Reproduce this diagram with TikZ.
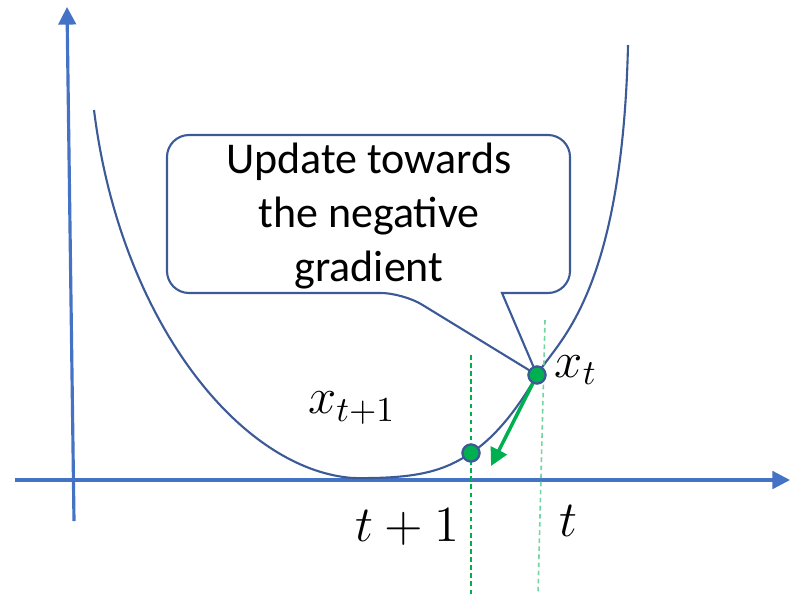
\documentclass[tikz,border=0pt]{standalone}
\usepackage{fontspec}
\setmainfont{Carlito}
\usetikzlibrary{arrows.meta}
\definecolor{axisblue}{HTML}{4472C4}
\definecolor{curveblue}{HTML}{3C5A96}
\definecolor{stepgreen}{HTML}{00B050}
\begin{document}
\begin{tikzpicture}[x=0.01cm, y=-0.01cm, >={Triangle[length=5pt,width=5pt]},
  dot/.style={circle, draw=curveblue, fill=stepgreen, line width=0.6pt, inner sep=0pt, minimum size=0.17cm},
  guide/.style={stepgreen, dash pattern=on 1.3pt off 1pt, line width=0.45pt},
  mathlbl/.style={font=\fontsize{14}{16}\selectfont}]
  \useasboundingbox (0,0) rectangle (798,594);
  \coordinate (xl) at (15,480);
  \coordinate (xr) at (790,480);
  \coordinate (yb) at (74,521);
  \coordinate (yt) at (67,7);
  \draw[axisblue, line width=0.9pt, ->] (xl) -- (xr);
  \draw[axisblue, line width=0.9pt, ->] (yb) -- (yt);
  \node[dot] (xt) at (537,375) {};
  \node[dot] (xt1) at (471,453) {};
  \draw[curveblue, line width=0.6pt] (94,110) .. controls (120,320) and (240,470) .. (353,478)
    .. controls (420,479) and (445,470) .. (xt1.center)
    .. controls (497,436) and (520,405) .. (xt.center)
    .. controls (555,343) and (622,300) .. (628,45);
  \coordinate (g1a) at (471,355);
  \coordinate (g1b) at (471,594);
  \coordinate (g2a) at (545,320);
  \coordinate (g2b) at (538,594);
  \draw[guide] (g1a) -- (g1b);
  \draw[guide, stepgreen!55] (g2a) -- (g2b);
  \node[dot] at (xt1) {};
  \coordinate (tip) at (491,466);
  \draw[stepgreen, line width=1pt, ->] (xt) -- (tip);
  \draw[curveblue, line width=0.6pt, fill=white] (502,293) [rounded corners=0.22cm] -- (570,293) -- (570,135) -- (167,135) -- (167,293) -- (403,293) [sharp corners] -- (xt.center) -- cycle;
  \node[dot] at (xt) {};
  \node[font=\fontsize{12.5}{15.4}\selectfont, align=center] (note) at (369,216) {Update towards\\the negative\\gradient};
  \node[mathlbl] (lxt) at (576,370) {$x_t$};
  \node[mathlbl] (lxt1) at (352,408) {$x_{t+1}$};
  \node[mathlbl] (lt1) at (407,527) {$t+1$};
  \node[mathlbl] (lt) at (568,521) {$t$};
\end{tikzpicture}
\end{document}
